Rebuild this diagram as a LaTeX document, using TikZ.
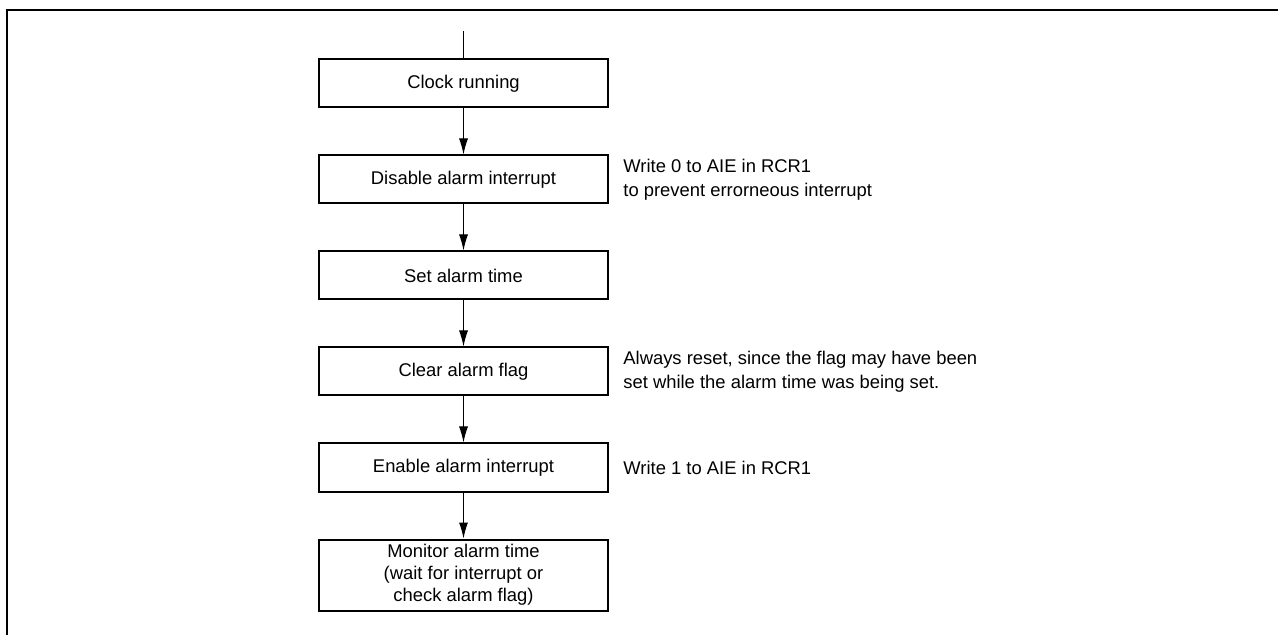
\documentclass[tikz,border=0pt]{standalone}
\usepackage{fontspec}
\setmainfont{Liberation Sans}
\usetikzlibrary{arrows.meta,positioning}

\begin{document}
\begin{tikzpicture}[node distance=23pt,
  s/.style={draw,line width=1pt,minimum width=144.5pt,minimum height=24pt,align=center,
            font=\fontsize{9.2}{11}\selectfont,inner sep=2pt},
  n/.style={align=left,font=\fontsize{9.2}{12}\selectfont,inner sep=0pt},
  a/.style={-{Latex[length=8pt,width=4.5pt]},line width=0.5pt}]
 \useasboundingbox (0,0) rectangle (639pt,-317.5pt);
 \draw[line width=1.2pt] (3.5pt,-317.5pt) -- (3.5pt,-5pt) -- (639pt,-5pt);
 \node[s] (clk) at (231.75pt,-41.75pt) {Clock running};
 \node[s,below=of clk] (dis) {Disable alarm interrupt};
 \node[s,below=of dis] (set) {Set alarm time};
 \node[s,below=of set] (clr) {Clear alarm flag};
 \node[s,below=of clr] (ena) {Enable alarm interrupt};
 \node[s,below=of ena,minimum height=35.5pt] (mon) {Monitor alarm time\\(wait for interrupt or\\check alarm flag)};
 \coordinate[above=13.5pt of clk] (in);
 \draw[line width=0.5pt] (in)--(clk);
 \draw[a] (clk)--(dis); \draw[a] (dis)--(set); \draw[a] (set)--(clr);
 \draw[a] (clr)--(ena); \draw[a] (ena)--(mon);
 \node[n,right=7pt of dis] (n1) {Write 0 to AIE in RCR1\\to prevent errorneous interrupt};
 \node[n,right=7pt of clr] (n2) {Always reset, since the flag may have been\\set while the alarm time was being set.};
 \node[n,right=7pt of ena] (n3) {Write 1 to AIE in RCR1};
\end{tikzpicture}
\end{document}
